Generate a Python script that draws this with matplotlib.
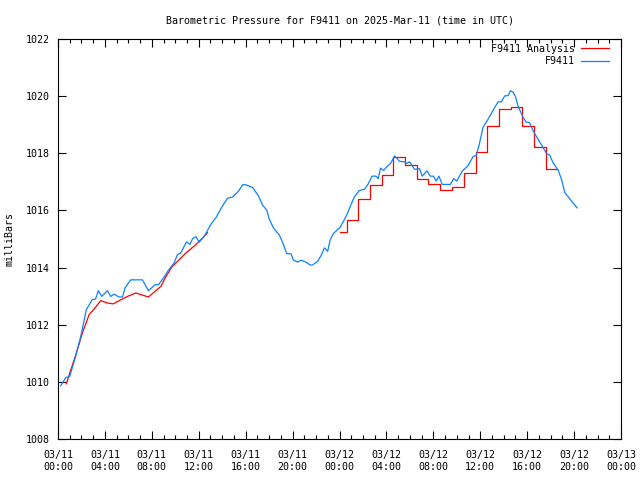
import numpy as np
import matplotlib
matplotlib.use("Agg")
import matplotlib.pyplot as plt
from matplotlib.ticker import MultipleLocator

# hours since 2025-03-11 00:00 UTC
obs_t = [0.23, 0.66, 1.0, 1.5, 1.94, 2.42, 2.93, 3.2, 3.44, 3.73,
         4.21, 4.5, 4.78, 5.2, 5.5, 5.72, 6.2, 7.2, 7.71, 8.28,
         8.57, 9.05, 9.42, 9.9, 10.19, 10.45, 10.96, 11.25, 11.47, 11.76,
         12.04, 12.47, 13.12, 13.46, 13.97, 14.46, 14.9, 15.4, 15.74, 16.0,
         16.6, 17.1, 17.45, 17.8, 18.0, 18.36, 18.87, 19.16, 19.5, 19.87,
         20.07, 20.44, 20.72, 21.15, 21.49, 21.7, 22.14, 22.43, 22.72, 22.99,
         23.2, 23.48, 24.05, 24.42, 24.7, 24.99, 25.28, 25.7, 26.13, 26.42,
         26.78, 27.1, 27.3, 27.5, 27.75, 28.04, 28.35, 28.7, 29.12, 29.55,
         29.7, 29.98, 30.4, 30.83, 31.05, 31.45, 31.74, 32.0, 32.25, 32.48,
         32.76, 33.45, 33.73, 34.0, 34.47, 34.95, 35.38, 35.66, 35.9, 36.23,
         36.75, 37.23, 37.52, 37.8, 38.09, 38.38, 38.57, 38.8, 39.0, 39.22,
         39.57, 39.88, 40.2, 40.56, 40.93, 41.36, 41.64, 41.93, 42.21, 42.64,
         42.93, 43.21, 43.49, 43.86, 44.26]
obs_p = [1009.86, 1010.15, 1010.19, 1010.89, 1011.59, 1012.53, 1012.88, 1012.9, 1013.19, 1012.99,
         1013.19, 1012.99, 1013.07, 1012.97, 1012.97, 1013.29, 1013.57, 1013.57, 1013.19, 1013.4,
         1013.4, 1013.67, 1013.91, 1014.16, 1014.46, 1014.5, 1014.9, 1014.81, 1015.01, 1015.08,
         1014.89, 1015.1, 1015.57, 1015.74, 1016.12, 1016.43, 1016.47, 1016.68, 1016.9, 1016.9,
         1016.8, 1016.5, 1016.18, 1016.01, 1015.71, 1015.39, 1015.14, 1014.87, 1014.49, 1014.48,
         1014.26, 1014.19, 1014.26, 1014.19, 1014.09, 1014.09, 1014.22, 1014.42, 1014.69, 1014.57,
         1014.96, 1015.19, 1015.41, 1015.68, 1015.92, 1016.21, 1016.48, 1016.7, 1016.74, 1016.91,
         1017.2, 1017.2, 1017.11, 1017.48, 1017.4, 1017.53, 1017.64, 1017.91, 1017.72, 1017.7,
         1017.64, 1017.7, 1017.44, 1017.46, 1017.2, 1017.38, 1017.2, 1017.2, 1017.03, 1017.2,
         1016.91, 1016.91, 1017.11, 1017.03, 1017.38, 1017.56, 1017.88, 1017.93, 1018.28, 1018.9,
         1019.25, 1019.6, 1019.8, 1019.8, 1020.01, 1020.02, 1020.19, 1020.14, 1019.99, 1019.66,
         1019.33, 1019.1, 1019.07, 1018.75, 1018.49, 1018.2, 1018.0, 1017.93, 1017.67, 1017.41,
         1017.09, 1016.62, 1016.48, 1016.29, 1016.09]

# analysis, first day (smooth part)
ana1_t = [0.71, 1.0, 1.65, 2.08, 2.65, 3.22, 3.64, 4.21, 4.7, 5.21,
          5.92, 6.64, 7.71, 8.77, 9.14, 9.71, 10.9, 11.61, 12.27, 12.75]
ana1_p = [1009.93, 1010.3, 1011.12, 1011.71, 1012.35, 1012.62, 1012.84, 1012.76, 1012.73, 1012.84,
          1012.99, 1013.11, 1012.97, 1013.34, 1013.64, 1014.02, 1014.51, 1014.75, 1015.01, 1015.22]

# analysis, second day (hourly steps)
ana2_t = [24.05, 24.65, 25.6, 26.6, 27.6, 28.6, 29.55, 30.6, 31.55, 32.55,
          33.6, 34.6, 35.6, 36.6, 37.6, 38.6, 39.6, 40.6, 41.6, 42.55]
ana2_p = [1015.25, 1015.68, 1016.39, 1016.88, 1017.24, 1017.88, 1017.58, 1017.09, 1016.94, 1016.70,
          1016.83, 1017.32, 1018.06, 1018.94, 1019.54, 1019.63, 1018.94, 1018.21, 1017.44, 1017.44]

tick_hours = [0, 4, 8, 12, 16, 20, 24, 28, 32, 36, 40, 44, 48]
tick_labels = ["03/11\n00:00", "03/11\n04:00", "03/11\n08:00", "03/11\n12:00",
               "03/11\n16:00", "03/11\n20:00", "03/12\n00:00", "03/12\n04:00",
               "03/12\n08:00", "03/12\n12:00", "03/12\n16:00", "03/12\n20:00",
               "03/13\n00:00"]

plt.rcParams['font.family'] = ['DejaVu Sans Mono']
plt.rcParams['font.size'] = 7.2

fig = plt.figure(figsize=(6.4, 4.8), dpi=100)
ax = fig.add_axes([58/640, 1 - 439/480, (621 - 58)/640, 400/480])

red = '#ff0000'
blue = '#0a84ff'
ax.plot(ana1_t, ana1_p, color=red, lw=0.9, label='F9411 Analysis')
ax.plot(ana2_t, ana2_p, color=red, lw=0.9, drawstyle='steps-post')
ax.plot(obs_t, obs_p, color=blue, lw=0.9, label='F9411')

ax.set_xlim(0, 48)
ax.set_ylim(1008, 1022)
ax.set_xticks(tick_hours)
ax.set_xticklabels(tick_labels)
ax.xaxis.set_minor_locator(MultipleLocator(1))
ax.set_yticks(np.arange(1008, 1023, 2))
ax.tick_params(which='both', direction='in', top=True, right=True, color='black')
ax.tick_params(which='major', length=6, width=0.8, pad=6)
ax.tick_params(which='minor', length=3, width=0.8)
ax.tick_params(axis='x', which='major', length=6, pad=8)
for s in ax.spines.values():
    s.set_linewidth(0.8)

ax.set_title('Barometric Pressure for F9411 on 2025-Mar-11 (time in UTC)',
             fontsize=7.2, pad=11)
ax.set_ylabel('milliBars', labelpad=8)

ax.legend(loc='upper right', bbox_to_anchor=(1.0, 1.018), frameon=False,
          markerfirst=False, handlelength=2.8, handletextpad=0.6,
          labelspacing=0.25, borderaxespad=0.8, fontsize=7.2)

fig.savefig('out.png', dpi=100)
